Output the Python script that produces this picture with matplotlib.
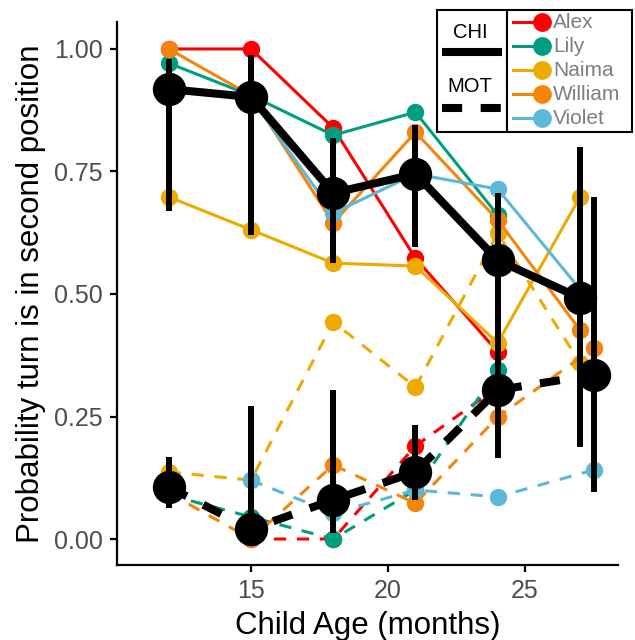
import numpy as np
import matplotlib.pyplot as plt
from matplotlib.patches import Rectangle

plt.rcParams['font.family'] = ['Liberation Sans', 'DejaVu Sans']

kids = ['Alex', 'Lily', 'Naima', 'William', 'Violet']
colors = ['#FF0000', '#009E80', '#EDAA00', '#F5850A', '#5BB8D6']

# child (CHI) turns, one row per kid
chi_age = [12, 15, 18, 21, 24, 27]
chi_vals = {
    'Alex':    [1.00, 1.00, 0.839, 0.573, 0.382, np.nan],
    'Lily':    [0.971, 0.905, 0.824, 0.871, 0.661, np.nan],
    'Naima':   [0.698, 0.631, 0.563, 0.557, 0.400, 0.698],
    'William': [1.00, 0.905, 0.645, 0.830, 0.651, 0.427],
    'Violet':  [np.nan, 0.900, 0.665, 0.745, 0.714, 0.510],
}

# mother (MOT) turns
mot_age = {
    'Alex':    [12, 15, 18, 21, 24, 27.5],
    'Lily':    [12, 15, 18, 21, 24, 27.5],
    'Naima':   [12, 15, 18, 21, 24, 27.0],
    'William': [12, 15, 18, 21, 24, 27.5],
    'Violet':  [12, 15, 18, 21, 24, 27.5],
}
mot_vals = {
    'Alex':    [np.nan, 0.0, 0.0, 0.19, 0.31, np.nan],
    'Lily':    [0.09, 0.045, 0.0, 0.10, 0.345, np.nan],
    'Naima':   [0.137, 0.12, 0.443, 0.31, 0.624, 0.36],
    'William': [0.094, 0.0, 0.151, 0.073, 0.249, 0.39],
    'Violet':  [np.nan, 0.12, 0.053, 0.10, 0.086, 0.141],
}

# group means with intervals
chi_mean = [0.918, 0.902, 0.706, 0.745, 0.569, 0.492]
chi_lo = [0.67, 0.62, 0.563, 0.596, 0.43, 0.188]
chi_hi = [0.98, 0.988, 0.818, 0.845, 0.706, 0.80]

mot_mean_age = [12, 15, 18, 21, 24, 27.5]
mot_mean = [0.106, 0.02, 0.08, 0.137, 0.304, 0.335]
mot_lo = [0.063, 0.0, 0.012, 0.08, 0.165, 0.096]
mot_hi = [0.167, 0.271, 0.304, 0.233, 0.58, 0.698]

W, H = 635, 640
fig = plt.figure(figsize=(W / 100, H / 100), dpi=100)
ax = fig.add_axes([117 / W, 1 - 565 / H, (618 - 117) / W, (565 - 22) / H])

for kid, col in zip(kids, colors):
    ax.plot(chi_age, chi_vals[kid], color=col, lw=2.2, marker='o', ms=11.5,
            zorder=2)
    ax.plot(mot_age[kid], mot_vals[kid], color=col, lw=2.2, marker='o', ms=11.5,
            linestyle=(0, (4, 3.5)), zorder=2)

ax.vlines(chi_age, chi_lo, chi_hi, color='black', lw=4.3, zorder=3)
ax.vlines(mot_mean_age, mot_lo, mot_hi, color='black', lw=4.3, zorder=3)
ax.plot(chi_age, chi_mean, color='black', lw=5.8, marker='o', ms=23, zorder=4)
ax.plot(mot_mean_age, mot_mean, color='black', lw=5.8, marker='o', ms=23,
        linestyle=(0, (2.5, 2.3)), zorder=4)

ax.set_xlim(10.11, 28.39)
ax.set_ylim(-0.053, 1.055)
ax.set_xticks([15, 20, 25])
ax.set_yticks([0, 0.25, 0.5, 0.75, 1.0])
ax.set_yticklabels(['0.00', '0.25', '0.50', '0.75', '1.00'])
for s in ['top', 'right']:
    ax.spines[s].set_visible(False)
for s in ['left', 'bottom']:
    ax.spines[s].set_linewidth(1.6)
ax.tick_params(length=5, width=1.6, labelsize=18, labelcolor='#4D4D4D', pad=5)
ax.set_xlabel('Child Age (months)', fontsize=22.5, labelpad=6)
ax.set_ylabel('Probability turn is in second position', fontsize=22.5, labelpad=6)

# legend drawn by hand in pixel units
lg = fig.add_axes([437 / W, 1 - 132 / H, 195 / W, 122 / H])
lg.set_xlim(0, 195)
lg.set_ylim(122, 0)
lg.axis('off')
lg.add_patch(Rectangle((0, 0), 70, 122, fill=True, facecolor='white',
                       edgecolor='black', lw=1.5, clip_on=False))
lg.add_patch(Rectangle((70, 0), 125, 122, fill=True, facecolor='white',
                       edgecolor='black', lw=1.5, clip_on=False))
lg.text(33, 22, 'CHI', fontsize=14.5, ha='center', va='center')
lg.plot([5, 65], [42, 42], color='black', lw=5.8, solid_capstyle='butt')
lg.text(33, 77, 'MOT', fontsize=14.5, ha='center', va='center')
lg.plot([5, 65], [98, 98], color='black', lw=5.8, linestyle=(0, (2.5, 2.3)))
for i, (kid, col) in enumerate(zip(kids, colors)):
    yy = 12 + 24 * i
    lg.plot([76, 105], [yy, yy], color=col, lw=2.2, marker='o', ms=12.5,
            markevery=[1], clip_on=False)
    lg.text(116, yy, kid, fontsize=15, color='#7F7F7F', va='center')

fig.savefig('out.png', dpi=100)
